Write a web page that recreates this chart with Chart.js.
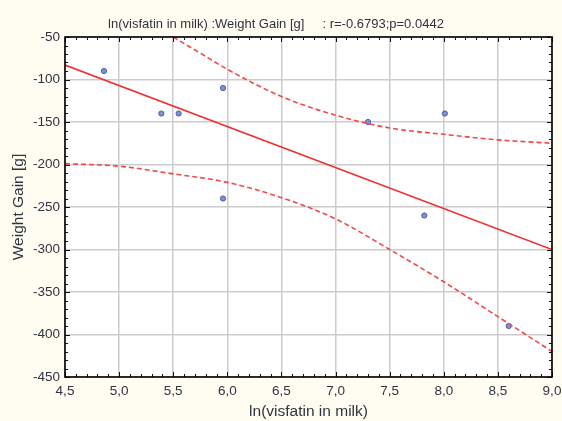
<!DOCTYPE html>
<html>
<head>
<meta charset="utf-8">
<script src="https://cdn.jsdelivr.net/npm/chart.js@4.4.0/dist/chart.umd.min.js"></script>
<style>
  html, body { margin: 0; padding: 0; background: #fffcf2; }
  #wrap { width: 562px; height: 421px; position: relative; }
</style>
</head>
<body>
<div id="wrap"><canvas id="c" width="562" height="421"></canvas></div>
<script>
// ---- data ----
const obsX = [4.86, 5.39, 5.55, 5.96, 5.96, 7.30, 7.82, 8.01, 8.60];
const obsY = [-90, -140, -140, -110, -240, -150, -260, -140, -390];
const fitX = [4.5, 9.0];
const fitY = [-83, -300];
const upperX = [5.5, 5.75, 6.0, 6.5, 7.0, 7.5, 8.0, 8.5, 9.0];
const upperY = [-50, -69, -88, -120, -142, -157, -164.5, -171, -175];
const lowerX = [4.5, 5.0, 5.5, 6.0, 6.5, 7.0, 7.5, 8.0, 8.5, 9.0];
const lowerY = [-199, -202, -211, -221, -239, -264, -300, -338, -379, -420];
const xTickValues = [4.5, 5.0, 5.5, 6.0, 6.5, 7.0, 7.5, 8.0, 8.5, 9.0];
const yTickValues = [-50, -100, -150, -200, -250, -300, -350, -400, -450];
const titleText = 'ln(visfatin in milk) :Weight Gain [g]     : r=-0.6793;p=0.0442';
const xTitle = 'ln(visfatin in milk)';
const yTitle = 'Weight Gain [g]';

const pts = (xs, ys) => xs.map((x, i) => ({ x: x, y: ys[i] }));

const FONT = "'Liberation Sans', Arial, sans-serif";
const TXT = '#2e3440';

const framePlugin = {
  id: 'frame',
  beforeDraw(chart) {
    const { ctx, chartArea: a } = chart;
    ctx.save();
    ctx.fillStyle = '#fffcf2';
    ctx.fillRect(0, 0, chart.width, chart.height);
    ctx.fillStyle = '#ffffff';
    ctx.fillRect(a.left, a.top, a.right - a.left, a.bottom - a.top);
    ctx.restore();
  },
  afterDatasetsDraw(chart) {
    const { ctx, chartArea: a, scales } = chart;
    const xs = scales.x, ys = scales.y;
    ctx.save();
    ctx.strokeStyle = '#111';
    ctx.lineWidth = 1;
    for (let i = 0; i <= 45; i++) {
      const v = 4.5 + i * 0.1;
      const px = Math.round(xs.getPixelForValue(v)) + 0.5;
      const len = (i % 5 === 0) ? 5 : 3;
      ctx.beginPath();
      ctx.moveTo(px, a.bottom); ctx.lineTo(px, a.bottom - len);
      ctx.moveTo(px, a.top); ctx.lineTo(px, a.top + len);
      ctx.stroke();
    }
    for (let i = 0; i <= 40; i++) {
      const v = -50 - i * 10;
      const py = Math.round(ys.getPixelForValue(v)) + 0.5;
      const len = (i % 5 === 0) ? 5 : 3;
      ctx.beginPath();
      ctx.moveTo(a.left, py); ctx.lineTo(a.left + len, py);
      ctx.moveTo(a.right, py); ctx.lineTo(a.right - len, py);
      ctx.stroke();
    }
    ctx.lineWidth = 1.6;
    ctx.strokeStyle = '#000';
    ctx.strokeRect(a.left, a.top, a.right - a.left, a.bottom - a.top);
    ctx.restore();
  }
};

new Chart(document.getElementById('c'), {
  type: 'scatter',
  data: {
    datasets: [
      {
        label: 'upper',
        data: pts(upperX, upperY),
        showLine: true,
        borderColor: '#f04848',
        borderWidth: 1.6,
        borderDash: [5, 3],
        pointRadius: 0,
        cubicInterpolationMode: 'monotone',
        fill: false
      },
      {
        label: 'lower',
        data: pts(lowerX, lowerY),
        showLine: true,
        borderColor: '#f04848',
        borderWidth: 1.6,
        borderDash: [5, 3],
        pointRadius: 0,
        cubicInterpolationMode: 'monotone',
        fill: false
      },
      {
        label: 'fit',
        data: pts(fitX, fitY),
        showLine: true,
        borderColor: '#ee3030',
        borderWidth: 1.6,
        pointRadius: 0,
        fill: false
      },
      {
        label: 'obs',
        data: pts(obsX, obsY),
        showLine: false,
        pointRadius: 2.6,
        pointBackgroundColor: '#8090d0',
        pointBorderColor: '#4a5ab0',
        pointBorderWidth: 1
      }
    ]
  },
  options: {
    responsive: false,
    animation: false,
    layout: { padding: { left: 0, right: 10, top: 0, bottom: 0 } },
    plugins: {
      legend: { display: false },
      tooltip: { enabled: false },
      title: {
        display: true,
        text: titleText,
        color: TXT,
        font: { family: FONT, size: 13, weight: 'normal', lineHeight: 1.2 },
        padding: { top: 17, bottom: 4.4 }
      }
    },
    scales: {
      x: {
        type: 'linear',
        min: 4.5,
        max: 9.0,
        afterFit(s) { s.height = 44; s.paddingLeft = 0; s.paddingRight = 0; },
        afterBuildTicks(s) { s.ticks = xTickValues.map(v => ({ value: v })); },
        ticks: {
          color: TXT,
          font: { family: FONT, size: 13.5 },
          padding: 6,
          maxRotation: 0,
          autoSkip: false,
          callback: v => Number(v).toFixed(1).replace('.', ',')
        },
        grid: { color: '#cccccc', lineWidth: 1.5, drawTicks: false },
        border: { display: false },
        title: {
          display: true,
          text: xTitle,
          color: TXT,
          font: { family: FONT, size: 15.5 },
          padding: { top: 0, bottom: 0 }
        }
      },
      y: {
        type: 'linear',
        min: -450,
        max: -50,
        afterFit(s) { s.width = 65; s.paddingTop = 0; s.paddingBottom = 0; },
        afterBuildTicks(s) { s.ticks = yTickValues.map(v => ({ value: v })); },
        ticks: {
          color: TXT,
          font: { family: FONT, size: 13.5 },
          padding: 5,
          autoSkip: false,
          callback: v => String(v)
        },
        grid: { color: '#cccccc', lineWidth: 1.5, drawTicks: false },
        border: { display: false },
        title: {
          display: true,
          text: yTitle,
          color: TXT,
          font: { family: FONT, size: 15.5 },
          padding: { top: 9, bottom: 0 }
        }
      }
    }
  },
  plugins: [framePlugin]
});
</script>
</body>
</html>
